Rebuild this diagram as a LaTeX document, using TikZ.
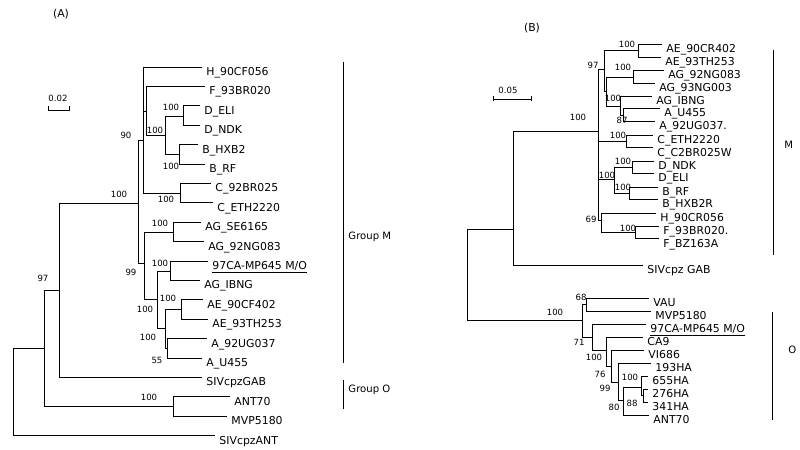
\documentclass[tikz,border=0pt]{standalone}
\usepackage{fontspec}
\setmainfont{DejaVu Sans}

\begin{document}
\begin{tikzpicture}[x=0.3mm,y=-0.3mm,line width=0.8pt,
    leaf/.style={anchor=north west,inner xsep=1.2mm,inner ysep=0pt,font=\fontsize{9.3}{11}\selectfont},
    boot/.style={inner sep=0pt,font=\fontsize{7.3}{8}\selectfont},
    grp/.style={anchor=west,inner sep=0pt,font=\fontsize{8.6}{10}\selectfont},
    panel/.style={inner sep=0pt,font=\fontsize{9.3}{11}\selectfont}]
        \useasboundingbox (0,0) rectangle (800,450);

        % (A)
        \node [panel] at (61,14) (pA){(A)};
        \node [boot] at (58,98) (sA){0.02};
        \coordinate (sA1) at (48,110);
        \coordinate (sA2) at (69,110);
        \draw (sA1) ++(0,-4) -- (sA1) -- (sA2) -- ++(0,-4);

        \node [leaf] at (202,67) (aH){H\_90CF056};
        \node [leaf] at (205,86.4) (aF){F\_93BR020};
        \node [leaf] at (200,105.8) (aDeli){D\_ELI};
        \node [leaf] at (200,125.2) (aDndk){D\_NDK};
        \node [leaf] at (198,144.6) (aBhxb){B\_HXB2};
        \node [leaf] at (205,164) (aBrf){B\_RF};
        \node [leaf] at (211,183.4) (aCbr){C\_92BR025};
        \node [leaf] at (213,202.8) (aCeth){C\_ETH2220};
        \node [leaf] at (201,222.2) (aAGse){AG\_SE6165};
        \node [leaf] at (204,241.6) (aAGng){AG\_92NG083};
        \node [leaf] at (208,261) (aMO){\underline{97CA-MP645 M/O}};
        \node [leaf] at (200,280.4) (aAGib){AG\_IBNG};
        \node [leaf] at (203,299.8) (aAEcf){AE\_90CF402};
        \node [leaf] at (208,319.2) (aAEth){AE\_93TH253};
        \node [leaf] at (207,338.6) (aAug){A\_92UG037};
        \node [leaf] at (202,358) (aAu){A\_U455};
        \node [leaf] at (202,377.4) (aGab){SIVcpzGAB};
        \node [leaf] at (230,396.8) (aAnt){ANT70};
        \node [leaf] at (227,416.2) (aMvp){MVP5180};
        \node [leaf] at (215,435.6) (aSant){SIVcpzANT};

        \coordinate (lD) at (183,116);
        \coordinate (lB) at (179,154);
        \coordinate (lDB) at (165,135);
        \coordinate (lFDB) at (146,111);
        \coordinate (lC) at (180,193);
        \coordinate (l90) at (143,140);
        \coordinate (lAG) at (173,232);
        \coordinate (lMO) at (170,271);
        \coordinate (lAE) at (181,309);
        \coordinate (lA) at (167,348);
        \coordinate (lAEA) at (165,328);
        \coordinate (lX) at (157,299);
        \coordinate (l99) at (144,263);
        \coordinate (lM) at (138,203);
        \coordinate (l97) at (59,290);
        \coordinate (lO) at (173,406);
        \coordinate (lMgO) at (44,348);
        \coordinate (lRoot) at (13,348);

        \draw (lD) |- (aDeli.north west) (lD) |- (aDndk.north west);
        \draw (lB) |- (aBhxb.north west) (lB) |- (aBrf.north west);
        \draw (lDB) |- (lD) (lDB) |- (lB);
        \draw (lFDB) |- (aF.north west) (lFDB) |- (lDB);
        \draw (lC) |- (aCbr.north west) (lC) |- (aCeth.north west);
        \draw (l90) |- (aH.north west) (l90) |- (lFDB) (l90) |- (lC);
        \draw (lAG) |- (aAGse.north west) (lAG) |- (aAGng.north west);
        \draw (lMO) |- (aMO.north west) (lMO) |- (aAGib.north west);
        \draw (lAE) |- (aAEcf.north west) (lAE) |- (aAEth.north west);
        \draw (lA) |- (aAug.north west) (lA) |- (aAu.north west);
        \draw (lAEA) |- (lAE) (lAEA) |- (lA);
        \draw (lX) |- (lMO) (lX) |- (lAEA);
        \draw (l99) |- (lAG) (l99) |- (lX);
        \draw (lM) |- (l90) (lM) |- (l99);
        \draw (l97) |- (lM) (l97) |- (aGab.north west);
        \draw (lO) |- (aAnt.north west) (lO) |- (aMvp.north west);
        \draw (lMgO) |- (l97) (lMgO) |- (lO);
        \draw (lRoot) |- (lMgO) (lRoot) |- (aSant.north west);

        \node [boot] at (171,107) (bA1){100};
        \node [boot] at (155,130) (bA2){100};
        \node [boot] at (171,166) (bA3){100};
        \node [boot] at (126,135) (bA4){90};
        \node [boot] at (119,194) (bA5){100};
        \node [boot] at (166,199) (bA6){100};
        \node [boot] at (160,223) (bA7){100};
        \node [boot] at (160,263) (bA8){100};
        \node [boot] at (131,272) (bA9){99};
        \node [boot] at (168,298) (bA10){100};
        \node [boot] at (145,309) (bA11){100};
        \node [boot] at (148,337) (bA12){100};
        \node [boot] at (157,360) (bA13){55};
        \node [boot] at (43,278) (bA14){97};
        \node [boot] at (149,397) (bA15){100};

        \coordinate (gMa) at (343,62);
        \coordinate (gMb) at (343,363);
        \coordinate (gOa) at (343,380);
        \coordinate (gOb) at (343,409);
        \draw (gMa) -- (gMb);
        \draw (gOa) -- (gOb);
        \node [grp] at (348,237) (gM){Group M};
        \node [grp] at (348,390) (gO){Group O};

        % (B)
        \node [panel] at (532,28) (pB){(B)};
        \node [boot] at (508,90) (sB){0.05};
        \coordinate (sB1) at (493,99);
        \coordinate (sB2) at (531,99);
        \draw (sB1) ++(0,-2.5) -- ++(0,5) (sB1) -- (sB2) ++(0,-2.5) -- ++(0,5);

        \node [leaf] at (662,44) (bAEcr){AE\_90CR402};
        \node [leaf] at (661,57) (bAEth){AE\_93TH253};
        \node [leaf] at (664,70) (bAGng){AG\_92NG083};
        \node [leaf] at (655,83) (bAGn3){AG\_93NG003};
        \node [leaf] at (652,96) (bAGib){AG\_IBNG};
        \node [leaf] at (660,108.5) (bAu){A\_U455};
        \node [leaf] at (655,121) (bAug){A\_92UG037.};
        \node [leaf] at (653,135) (bCeth){C\_ETH2220};
        \node [leaf] at (653,147.5) (bCbr){C\_C2BR025W};
        \node [leaf] at (654,161) (bDndk){D\_NDK};
        \node [leaf] at (654,173) (bDeli){D\_ELI};
        \node [leaf] at (658,187) (bBrf){B\_RF};
        \node [leaf] at (658,199) (bBhxb){B\_HXB2R};
        \node [leaf] at (656,213) (bH){H\_90CR056};
        \node [leaf] at (659,226) (bFbr){F\_93BR020.};
        \node [leaf] at (659,238.5) (bFbz){F\_BZ163A};
        \node [leaf] at (643,265) (bGab){SIVcpz GAB};
        \node [leaf] at (649,298) (bVau){VAU};
        \node [leaf] at (651,311) (bMvp){MVP5180};
        \node [leaf] at (646,324) (bMO){\underline{97CA-MP645 M/O}};
        \node [leaf] at (643,337) (bCa){CA9};
        \node [leaf] at (644,350) (bVi){VI686};
        \node [leaf] at (651,363) (b193){193HA};
        \node [leaf] at (648,376) (b655){655HA};
        \node [leaf] at (648,389) (b276){276HA};
        \node [leaf] at (648,402) (b341){341HA};
        \node [leaf] at (649,415) (bAnt){ANT70};

        \coordinate (rAE) at (638,50);
        \coordinate (rAG) at (633,77);
        \coordinate (rA) at (623,115);
        \coordinate (rIB) at (620,106);
        \coordinate (rAGI) at (606,91);
        \coordinate (r97) at (604,69);
        \coordinate (rC) at (626,141);
        \coordinate (rD) at (632,167);
        \coordinate (rB) at (629,193);
        \coordinate (rDB) at (614,179);
        \coordinate (rF) at (635,232);
        \coordinate (rH) at (601,220);
        \coordinate (rM) at (598,131);
        \coordinate (rMG) at (513,229);
        \coordinate (rRoot) at (467,229);
        \coordinate (rO) at (582,320);
        \coordinate (rVM) at (586,304);
        \coordinate (r71) at (592,337);
        \coordinate (rCA) at (606,350);
        \coordinate (r76) at (611,366);
        \coordinate (r99) at (618,382);
        \coordinate (r80) at (623,400);
        \coordinate (rHA) at (641,387);
        \coordinate (r88) at (643,395);

        \draw (rAE) |- (bAEcr.north west) (rAE) |- (bAEth.north west);
        \draw (rAG) |- (bAGng.north west) (rAG) |- (bAGn3.north west);
        \draw (rA) |- (bAu.north west) (rA) |- (bAug.north west);
        \draw (rIB) |- (bAGib.north west) (rIB) |- (rA);
        \draw (rAGI) |- (rAG) (rAGI) |- (rIB);
        \draw (r97) |- (rAE) (r97) |- (rAGI);
        \draw (rC) |- (bCeth.north west) (rC) |- (bCbr.north west);
        \draw (rD) |- (bDndk.north west) (rD) |- (bDeli.north west);
        \draw (rB) |- (bBrf.north west) (rB) |- (bBhxb.north west);
        \draw (rDB) |- (rD) (rDB) |- (rB);
        \draw (rF) |- (bFbr.north west) (rF) |- (bFbz.north west);
        \draw (rH) |- (bH.north west) (rH) |- (rF);
        \draw (rM) |- (r97) (rM) |- (rC) (rM) |- (rDB) (rM) |- (rH);
        \draw (rMG) |- (rM) (rMG) |- (bGab.north west);
        \draw (rRoot) |- (rMG) (rRoot) |- (rO);
        \draw (rVM) |- (bVau.north west) (rVM) |- (bMvp.north west);
        \draw (r88) |- (b276.north west) (r88) |- (b341.north west);
        \draw (rHA) |- (b655.north west) (rHA) |- (r88);
        \draw (r80) |- (rHA) (r80) |- (bAnt.north west);
        \draw (r99) |- (b193.north west) (r99) |- (r80);
        \draw (r76) |- (bVi.north west) (r76) |- (r99);
        \draw (rCA) |- (bCa.north west) (rCA) |- (r76);
        \draw (r71) |- (bMO.north west) (r71) |- (rCA);
        \draw (rO) |- (rVM) (rO) |- (r71);

        \node [boot] at (627,44) (bB1){100};
        \node [boot] at (623,67) (bB2){100};
        \node [boot] at (593,65) (bB3){97};
        \node [boot] at (613,98) (bB4){100};
        \node [boot] at (622,120) (bB5){87};
        \node [boot] at (578,117) (bB6){100};
        \node [boot] at (618,135) (bB7){100};
        \node [boot] at (623,161) (bB8){100};
        \node [boot] at (607,175) (bB9){100};
        \node [boot] at (623,187) (bB10){100};
        \node [boot] at (591,219) (bB11){69};
        \node [boot] at (628,228) (bB12){100};
        \node [boot] at (555,312) (bB13){100};
        \node [boot] at (581,297) (bB14){68};
        \node [boot] at (579,342) (bB15){71};
        \node [boot] at (594,357) (bB16){100};
        \node [boot] at (600,374) (bB17){76};
        \node [boot] at (605,388) (bB18){99};
        \node [boot] at (630,377) (bB19){100};
        \node [boot] at (614,407) (bB20){80};
        \node [boot] at (632,403) (bB21){88};

        \coordinate (hMa) at (773,50);
        \coordinate (hMb) at (773,255);
        \coordinate (hOa) at (772,312);
        \coordinate (hOb) at (772,420);
        \draw (hMa) -- (hMb);
        \draw (hOa) -- (hOb);
        \node [grp] at (784,145) (hM){M};
        \node [grp] at (788,350) (hO){O};
      \end{tikzpicture}
\end{document}
